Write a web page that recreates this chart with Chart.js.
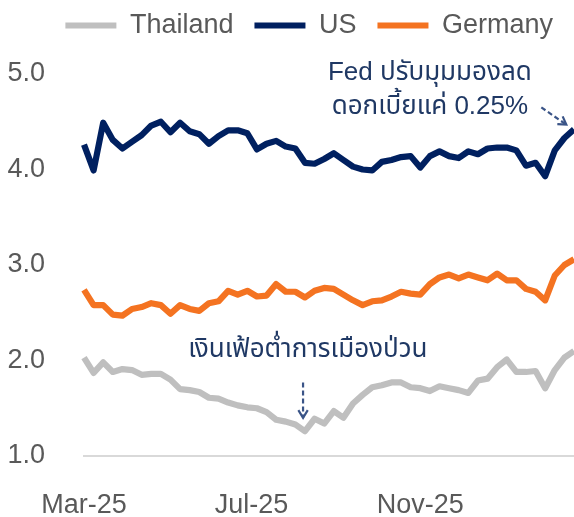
<!DOCTYPE html>
<html>
<head>
<meta charset="utf-8">
<script src="https://cdn.jsdelivr.net/npm/chart.js"></script>
<style>
  html, body { margin: 0; padding: 0; background: #fff; }
  #wrap { width: 574px; height: 517px; }
</style>
</head>
<body>
<div id="wrap"><canvas id="chart" width="574" height="517"></canvas></div>
<script>
// weekly observations
const categories = [
  '2025-03-01', '2025-03-08', '2025-03-15', '2025-03-22', '2025-03-29',
  '2025-04-05', '2025-04-12', '2025-04-19', '2025-04-26',
  '2025-05-03', '2025-05-10', '2025-05-17', '2025-05-24', '2025-05-31',
  '2025-06-07', '2025-06-14', '2025-06-21', '2025-06-28',
  '2025-07-05', '2025-07-12', '2025-07-19', '2025-07-26',
  '2025-08-02', '2025-08-09', '2025-08-16', '2025-08-23', '2025-08-30',
  '2025-09-06', '2025-09-13', '2025-09-20', '2025-09-27',
  '2025-10-04', '2025-10-11', '2025-10-18', '2025-10-25',
  '2025-11-01', '2025-11-08', '2025-11-15', '2025-11-22', '2025-11-29',
  '2025-12-06', '2025-12-13', '2025-12-20', '2025-12-27',
  '2026-01-03', '2026-01-10', '2026-01-17', '2026-01-24', '2026-01-31',
  '2026-02-07', '2026-02-14', '2026-02-21'
];

const thailand = [
  2.03, 1.87, 1.98, 1.88, 1.91, 1.90, 1.85, 1.86, 1.86, 1.80,
  1.70, 1.69, 1.67, 1.61, 1.60, 1.56, 1.53, 1.51, 1.50, 1.46,
  1.38, 1.36, 1.33, 1.26, 1.39, 1.34, 1.47, 1.40, 1.55, 1.64,
  1.72, 1.74, 1.77, 1.77, 1.72, 1.71, 1.68, 1.73, 1.71, 1.69,
  1.66, 1.79, 1.81, 1.93, 2.01, 1.88, 1.88, 1.89, 1.71, 1.90,
  2.03, 2.10
];

const us = [
  4.26, 3.99, 4.49, 4.31, 4.22, 4.29, 4.36, 4.46, 4.50, 4.39,
  4.49, 4.40, 4.37, 4.27, 4.35, 4.41, 4.41, 4.38, 4.21, 4.27,
  4.30, 4.24, 4.22, 4.07, 4.06, 4.11, 4.17, 4.10, 4.03, 4.00,
  3.99, 4.08, 4.10, 4.13, 4.14, 4.02, 4.14, 4.19, 4.14, 4.12,
  4.19, 4.16, 4.22, 4.23, 4.23, 4.20, 4.04, 4.07, 3.93, 4.20,
  4.33, 4.42
];

const germany = [
  2.74, 2.58, 2.58, 2.48, 2.47, 2.54, 2.56, 2.60, 2.58, 2.49,
  2.58, 2.54, 2.52, 2.60, 2.62, 2.73, 2.69, 2.73, 2.67, 2.68,
  2.80, 2.72, 2.72, 2.66, 2.73, 2.76, 2.75, 2.69, 2.63, 2.58,
  2.62, 2.63, 2.67, 2.72, 2.70, 2.69, 2.80, 2.87, 2.90, 2.86,
  2.90, 2.87, 2.84, 2.91, 2.84, 2.84, 2.75, 2.72, 2.63, 2.89,
  3.00, 3.06
];

// x ticks fall on the first of the month
const tickLabels = ['Mar-25', 'Jul-25', 'Nov-25'];
const tickDates = ['2025-03-01', '2025-07-01', '2025-11-01'];
const yTicks = [1, 2, 3, 4, 5];

const FONT = '"Liberation Sans", Arial, "Noto Sans Thai", "Noto Sans", sans-serif';
const TEXT_GREY = '#595959';
const NOTE_COLOR = '#1f3864';
const ARROW_COLOR = '#3a5487';

const weekMs = 7 * 24 * 3600 * 1000;
const tickPositions = tickDates.map(d => (Date.parse(d) - Date.parse(categories[0])) / weekMs);

// annotation texts, placed in data coordinates (week index, value)
const notes = [
  { lines: ['Fed ปรับมุมมองลด', 'ดอกเบี้ยแค่ 0.25%'], x: 36.0, y: [5.01, 4.66] },
  { lines: ['เงินเฟ้อต่ำการเมืองป่วน'], x: 23.3, y: [2.11] }
];
const arrows = [
  { from: [47.6, 4.65], to: [50.2, 4.47] },
  { from: [22.8, 1.77], to: [22.8, 1.40] }
];

const legendSpace = {
  id: 'legendSpace',
  beforeInit(chart) {
    const fit = chart.legend.fit;
    chart.legend.fit = function () {
      fit.call(this);
      this.height = 83;
    };
  }
};

const annotations = {
  id: 'annotations',
  afterDatasetsDraw(chart) {
    const ctx = chart.ctx;
    const xs = chart.scales.x, ys = chart.scales.y;
    ctx.save();
    ctx.fillStyle = NOTE_COLOR;
    ctx.font = '26px ' + FONT;
    ctx.textAlign = 'center';
    ctx.textBaseline = 'middle';
    notes.forEach(n => {
      n.lines.forEach((t, i) => {
        ctx.fillText(t, xs.getPixelForValue(n.x), ys.getPixelForValue(n.y[i]));
      });
    });
    ctx.strokeStyle = ARROW_COLOR;
    ctx.lineWidth = 2.2;
    arrows.forEach(a => {
      const x1 = xs.getPixelForValue(a.from[0]), y1 = ys.getPixelForValue(a.from[1]);
      const x2 = xs.getPixelForValue(a.to[0]), y2 = ys.getPixelForValue(a.to[1]);
      const ang = Math.atan2(y2 - y1, x2 - x1);
      ctx.setLineDash([5, 3]);
      ctx.beginPath();
      ctx.moveTo(x1, y1);
      ctx.lineTo(x2, y2);
      ctx.stroke();
      ctx.setLineDash([]);
      ctx.beginPath();
      ctx.moveTo(x2 - 9 * Math.cos(ang - 0.55), y2 - 9 * Math.sin(ang - 0.55));
      ctx.lineTo(x2, y2);
      ctx.lineTo(x2 - 9 * Math.cos(ang + 0.55), y2 - 9 * Math.sin(ang + 0.55));
      ctx.stroke();
    });
    ctx.restore();
  }
};

const lineStyle = {
  borderWidth: 6.2,
  pointRadius: 0,
  tension: 0,
  borderJoinStyle: 'round',
  fill: false
};

new Chart(document.getElementById('chart'), {
  type: 'line',
  data: {
    labels: categories,
    datasets: [
      { label: 'Thailand', data: thailand, borderColor: '#bfbfbf', backgroundColor: '#bfbfbf', ...lineStyle },
      { label: 'US', data: us, borderColor: '#002060', backgroundColor: '#002060', ...lineStyle },
      { label: 'Germany', data: germany, borderColor: '#f47321', backgroundColor: '#f47321', ...lineStyle }
    ]
  },
  options: {
    responsive: false,
    animation: false,
    layout: { padding: { top: -9, left: 0, right: 0, bottom: 0 } },
    plugins: {
      tooltip: { enabled: false },
      legend: {
        position: 'top',
        align: 'end',
        labels: {
          color: TEXT_GREY,
          font: { family: FONT, size: 27 },
          boxWidth: 51,
          boxHeight: 6,
          padding: 21,
          generateLabels(chart) {
            return Chart.defaults.plugins.legend.labels.generateLabels(chart)
              .map(item => ({ ...item, fillStyle: item.strokeStyle, lineWidth: 0 }));
          }
        }
      }
    },
    scales: {
      x: {
        grid: { display: false, drawTicks: false },
        border: { display: true, color: '#d9d9d9', width: 2 },
        afterFit(scale) { scale.height = 61; },
        afterBuildTicks(scale) {
          scale.ticks = tickPositions.map(v => ({ value: v }));
        },
        ticks: {
          autoSkip: false,
          maxRotation: 0,
          padding: 33,
          color: TEXT_GREY,
          font: { family: FONT, size: 27 },
          callback: (value, index) => tickLabels[index]
        }
      },
      y: {
        min: 1,
        max: 5,
        grid: { display: false, drawTicks: false },
        border: { display: false },
        afterFit(scale) { scale.width = 84; },
        afterBuildTicks(scale) {
          scale.ticks = yTicks.map(v => ({ value: v }));
        },
        ticks: {
          padding: 39,
          color: TEXT_GREY,
          font: { family: FONT, size: 27 },
          callback: v => v.toFixed(1)
        }
      }
    }
  },
  plugins: [legendSpace, annotations]
});
</script>
</body>
</html>
